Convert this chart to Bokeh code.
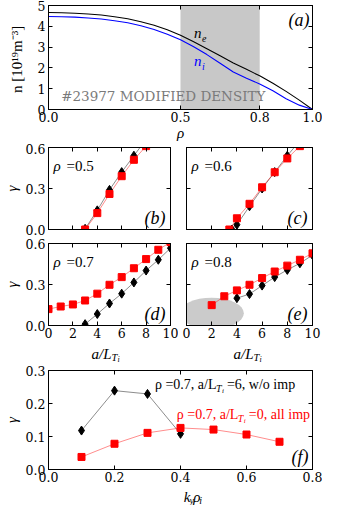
import math
from bokeh.plotting import figure
from bokeh.layouts import column, row
from bokeh.models import BoxAnnotation, Label, LinearAxis, FixedTicker, Range1d
from bokeh.embed import file_html
from bokeh.resources import INLINE

# ---------------- data ----------------
rho = [0.00, 0.05, 0.10, 0.15, 0.20, 0.25, 0.30, 0.35, 0.40, 0.45, 0.50,
       0.55, 0.60, 0.65, 0.70, 0.75, 0.80, 0.85, 0.90, 0.95, 1.00]
n_e = [4.66, 4.65, 4.63, 4.59, 4.54, 4.46, 4.36, 4.22, 4.05, 3.83, 3.57,
       3.26, 2.92, 2.58, 2.24, 1.93, 1.62, 1.26, 0.87, 0.45, 0.00]
n_i = [4.47, 4.46, 4.44, 4.40, 4.35, 4.27, 4.17, 4.03, 3.85, 3.62, 3.35,
       3.02, 2.64, 2.22, 1.80, 1.50, 1.23, 0.90, 0.52, 0.21, 0.00]
band_rho = [0.5, 0.8]

a_xticks = [0.0, 0.5, 0.8, 1.0]
a_xticklabels = ["0.0", "0.5", "0.8", "1.0"]
a_yticks = [0, 1, 2, 3, 4, 5]
a_yticklabels = ["0", "1", "2", "3", "4", "5"]

g_xticks = [0, 2, 4, 6, 8, 10]
g_xticklabels = ["0", "2", "4", "6", "8", "10"]
g_yticks = [0.0, 0.3, 0.6]
g_yticklabels = ["0.0", "0.3", "0.6"]

# (b) rho = 0.5
b_blk_x = [3, 4, 5, 6, 7, 8]
b_blk_y = [0.005, 0.14, 0.29, 0.42, 0.54, 0.66]
b_red_x = [3, 4, 5, 6, 7, 8]
b_red_y = [0.0, 0.12, 0.26, 0.39, 0.51, 0.61]
# (c) rho = 0.6
c_blk_x = [3.6, 4, 5, 6, 7, 8, 9]
c_blk_y = [0.0, 0.035, 0.17, 0.30, 0.42, 0.54, 0.65]
c_red_x = [3.4, 4, 5, 6, 7, 8, 9]
c_red_y = [0.0, 0.082, 0.188, 0.309, 0.419, 0.52, 0.61]
# (d) rho = 0.7
d_blk_x = [3, 4, 5, 6, 7, 8, 9, 10]
d_blk_y = [0.01, 0.084, 0.161, 0.233, 0.315, 0.402, 0.481, 0.566]
d_red_x = [0, 1, 2, 3, 4, 5, 6, 7, 8, 9, 10]
d_red_y = [0.12, 0.139, 0.154, 0.183, 0.233, 0.298, 0.354, 0.419, 0.486, 0.554, 0.61]
# (e) rho = 0.8
e_blk_x = [4, 5, 6, 7, 8, 9, 10]
e_blk_y = [0.20, 0.23, 0.292, 0.354, 0.407, 0.455, 0.515]
e_red_x = [2, 3, 4, 5, 6, 7, 8, 9, 10]
e_red_y = [0.149, 0.214, 0.257, 0.298, 0.347, 0.395, 0.438, 0.481, 0.528]
e_ellipse_center = (2.0, 0.089)
e_ellipse_size = (5.1, 0.23)

# (f) spectra
f_xticks = [0.0, 0.2, 0.4, 0.6, 0.8]
f_xticklabels = ["0.0", "0.2", "0.4", "0.6", "0.8"]
f_yticks = [0.0, 0.1, 0.2, 0.3]
f_yticklabels = ["0.0", "0.1", "0.2", "0.3"]
f_blk_x = [0.1, 0.2, 0.3, 0.4]
f_blk_y = [0.118, 0.239, 0.229, 0.108]
f_red_x = [0.1, 0.2, 0.3, 0.4, 0.5, 0.6, 0.7]
f_red_y = [0.038, 0.078, 0.111, 0.126, 0.121, 0.106, 0.084]

# ---------------- styling helpers ----------------
TICK_FONT = "DejaVu Serif"
MATH_FONT = "Liberation Serif"
RED = "#ff0000"


def make_fig(w, h, bl, br, bt, bb, xr, yr, bare=False):
    p = figure(width=w, height=h, x_range=Range1d(*xr), y_range=Range1d(*yr),
               x_axis_type=None, y_axis_type=None, output_backend="svg",
               toolbar_location=None, min_border_left=bl, min_border_right=br,
               min_border_top=bt, min_border_bottom=bb, title=None)
    p.outline_line_color = None if bare else "black"
    p.outline_line_width = 1
    p.background_fill_color = "white"
    p.border_fill_color = "white"
    return p


def add_axis(p, side, ticks, labels=None, standoff=3, title=None,
             title_style="italic", title_standoff=3):
    ax = LinearAxis(ticker=FixedTicker(ticks=ticks, minor_ticks=[]),
                    major_tick_in=4, major_tick_out=0,
                    minor_tick_in=0, minor_tick_out=0, minor_tick_line_color=None,
                    axis_line_color="black", major_tick_line_color="black",
                    major_label_text_font=TICK_FONT)
    if labels is None:
        ax.major_label_text_font_size = "0px"
        ax.major_label_standoff = 0
        ax.major_label_text_color = None
    else:
        ax.major_label_text_font_size = "12.5px"
        ax.major_label_standoff = standoff
        ax.major_label_text_color = "black"
        ax.major_label_overrides = {t: s for t, s in zip(ticks, labels)}
    if title is not None:
        ax.axis_label = title
        ax.axis_label_text_font = MATH_FONT
        ax.axis_label_text_font_size = "15px"
        ax.axis_label_text_font_style = title_style
        ax.axis_label_text_color = "black"
        ax.axis_label_standoff = title_standoff
    p.add_layout(ax, side)


def lab(p, x, y, text, size, dx=0, dy=0, color="black", style="italic",
        font=MATH_FONT, align="left", baseline="middle"):
    p.add_layout(Label(x=x, y=y, x_offset=dx, y_offset=dy, text=text,
                       text_font=font, text_font_size=f"{size}px",
                       text_color=color, text_font_style=style,
                       text_align=align, text_baseline=baseline))


def growth(p, bx, by, rx, ry):
    p.line(bx, by, line_color="black", line_alpha=0.45, line_width=1)
    p.line(rx, ry, line_color=RED, line_alpha=0.45, line_width=1)
    p.scatter(bx, by, marker="diamond", size=9, fill_color="black", line_color="black")
    p.scatter(rx, ry, marker="square", size=7, fill_color=RED, line_color=RED)


# ---------------- panel (a) ----------------
pa = make_fig(322, 143, 44, 10, 5, 33, (0, 1), (0, 5))
add_axis(pa, "below", a_xticks, a_xticklabels, standoff=2, title="ρ", title_standoff=0)
add_axis(pa, "left", a_yticks, a_yticklabels, standoff=3, title="n  [10¹⁹m⁻³]",
         title_style="normal", title_standoff=10)
add_axis(pa, "above", a_xticks)
add_axis(pa, "right", a_yticks)
pa.add_layout(BoxAnnotation(left=band_rho[0], right=band_rho[1], fill_color="#c8c8c8",
                            fill_alpha=1.0, line_color=None, level="underlay"))
pa.line(rho, n_e, line_color="black", line_width=1.1)
pa.line(rho, n_i, line_color="#0000ff", line_width=1.1)
lab(pa, 0.048, 0.64, "#23977 MODIFIED DENSITY", 13.5, color="#7a7a7a",
    style="normal", font=TICK_FONT)
lab(pa, 0.551, 3.66, "n", 15)
lab(pa, 0.551, 3.66, "e", 10, dx=8, dy=-5)
lab(pa, 0.551, 2.32, "n", 15, color="#0000ff")
lab(pa, 0.551, 2.32, "i", 10, dx=8, dy=-5, color="#0000ff")
lab(pa, 1.0, 5.0, "(a)", 18, dx=-3, dy=-14, align="right")

# ---------------- panels (b)-(e) ----------------
pb = make_fig(178, 93, 44, 8, 4, 7, (0, 10), (0, 0.6))
pc = make_fig(144, 93, 8, 10, 4, 7, (0, 10), (0, 0.6))
pd = make_fig(178, 107, 44, 8, 7, 18, (0, 10), (0, 0.6))
pe = make_fig(144, 107, 8, 10, 7, 18, (0, 10), (0, 0.6))

for p, xl, yl in ((pb, None, g_yticklabels), (pc, None, None),
                  (pd, g_xticklabels, g_yticklabels), (pe, g_xticklabels, None)):
    add_axis(p, "below", g_xticks, xl, standoff=2)
    add_axis(p, "left", g_yticks, yl, standoff=3,
             title="γ" if yl is not None else None, title_standoff=3)
    add_axis(p, "above", g_xticks)
    add_axis(p, "right", g_yticks)

# grey ellipse highlighting the low-gradient points in (e)
pe.ellipse(x=[e_ellipse_center[0]], y=[e_ellipse_center[1]],
           width=e_ellipse_size[0], height=e_ellipse_size[1],
           fill_color="#cbcbcb", line_color=None)

growth(pb, b_blk_x, b_blk_y, b_red_x, b_red_y)
growth(pc, c_blk_x, c_blk_y, c_red_x, c_red_y)
growth(pd, d_blk_x, d_blk_y, d_red_x, d_red_y)
growth(pe, e_blk_x, e_blk_y, e_red_x, e_red_y)

for p, rv, letter in ((pb, "0.5", "(b)"), (pc, "0.6", "(c)"),
                      (pd, "0.7", "(d)"), (pe, "0.8", "(e)")):
    lab(p, 0, 0.6, "ρ", 15, dx=5, dy=-18)
    lab(p, 0, 0.6, "=" + rv, 15, dx=18, dy=-18, style="normal")
    lab(p, 10, 0, letter, 18, dx=-5, dy=12, align="right")

# x-axis titles with sub-subscripts, drawn in thin strips under (d) and (e)
sd = make_fig(178, 20, 0, 0, 0, 0, (0, 178), (0, 20), bare=True)
se = make_fig(144, 20, 0, 0, 0, 0, (0, 144), (0, 20), bare=True)
for s, cxp in ((sd, 44 + 63), (se, 8 + 63)):
    lab(s, cxp - 16, 10, "a/L", 15)
    lab(s, cxp + 4, 6, "T", 10.5)
    lab(s, cxp + 10, 4, "i", 8)

# ---------------- panel (f) ----------------
pf = make_fig(322, 124, 44, 10, 7, 18, (0, 0.8), (0, 0.3))
add_axis(pf, "below", f_xticks, f_xticklabels, standoff=2)
add_axis(pf, "left", f_yticks, f_yticklabels, standoff=3, title="γ", title_standoff=3)
add_axis(pf, "above", f_xticks)
add_axis(pf, "right", f_yticks)
pf.line(f_blk_x, f_blk_y, line_color="black", line_alpha=0.45, line_width=1)
pf.line(f_red_x, f_red_y, line_color=RED, line_alpha=0.45, line_width=1)
pf.scatter(f_blk_x, f_blk_y, marker="diamond", size=9, fill_color="black",
           line_color="black")
pf.scatter(f_red_x, f_red_y, marker="square", size=7, fill_color=RED, line_color=RED)
lab(pf, 0.8, 0, "(f)", 18, dx=-4, dy=13, align="right")

for x0, y0, tail, col in ((0.3226, 0.258, "=6, w/o imp", "black"),
                          (0.389, 0.168, "=0, all imp", RED)):
    lab(pf, x0, y0, "ρ =0.7, a/L", 14, color=col, style="normal")
    lab(pf, x0, y0, "T", 10, dx=61, dy=-4, color=col)
    lab(pf, x0, y0, "i", 7, dx=67, dy=-7, color=col)
    lab(pf, x0, y0, tail, 14, dx=72, color=col, style="normal")

sf = make_fig(322, 18, 0, 0, 0, 0, (0, 322), (0, 18), bare=True)
fcx = 44 + 134
lab(sf, fcx - 13, 9, "k", 15)
lab(sf, fcx - 6, 5, "y", 10)
lab(sf, fcx - 1.5, 9, "ρ", 15)
lab(sf, fcx + 6, 5, "i", 10)

layout = column(pa, row(pb, pc), row(pd, pe), row(sd, se), pf, sf)
open("out.html", "w").write(file_html(layout, INLINE))
